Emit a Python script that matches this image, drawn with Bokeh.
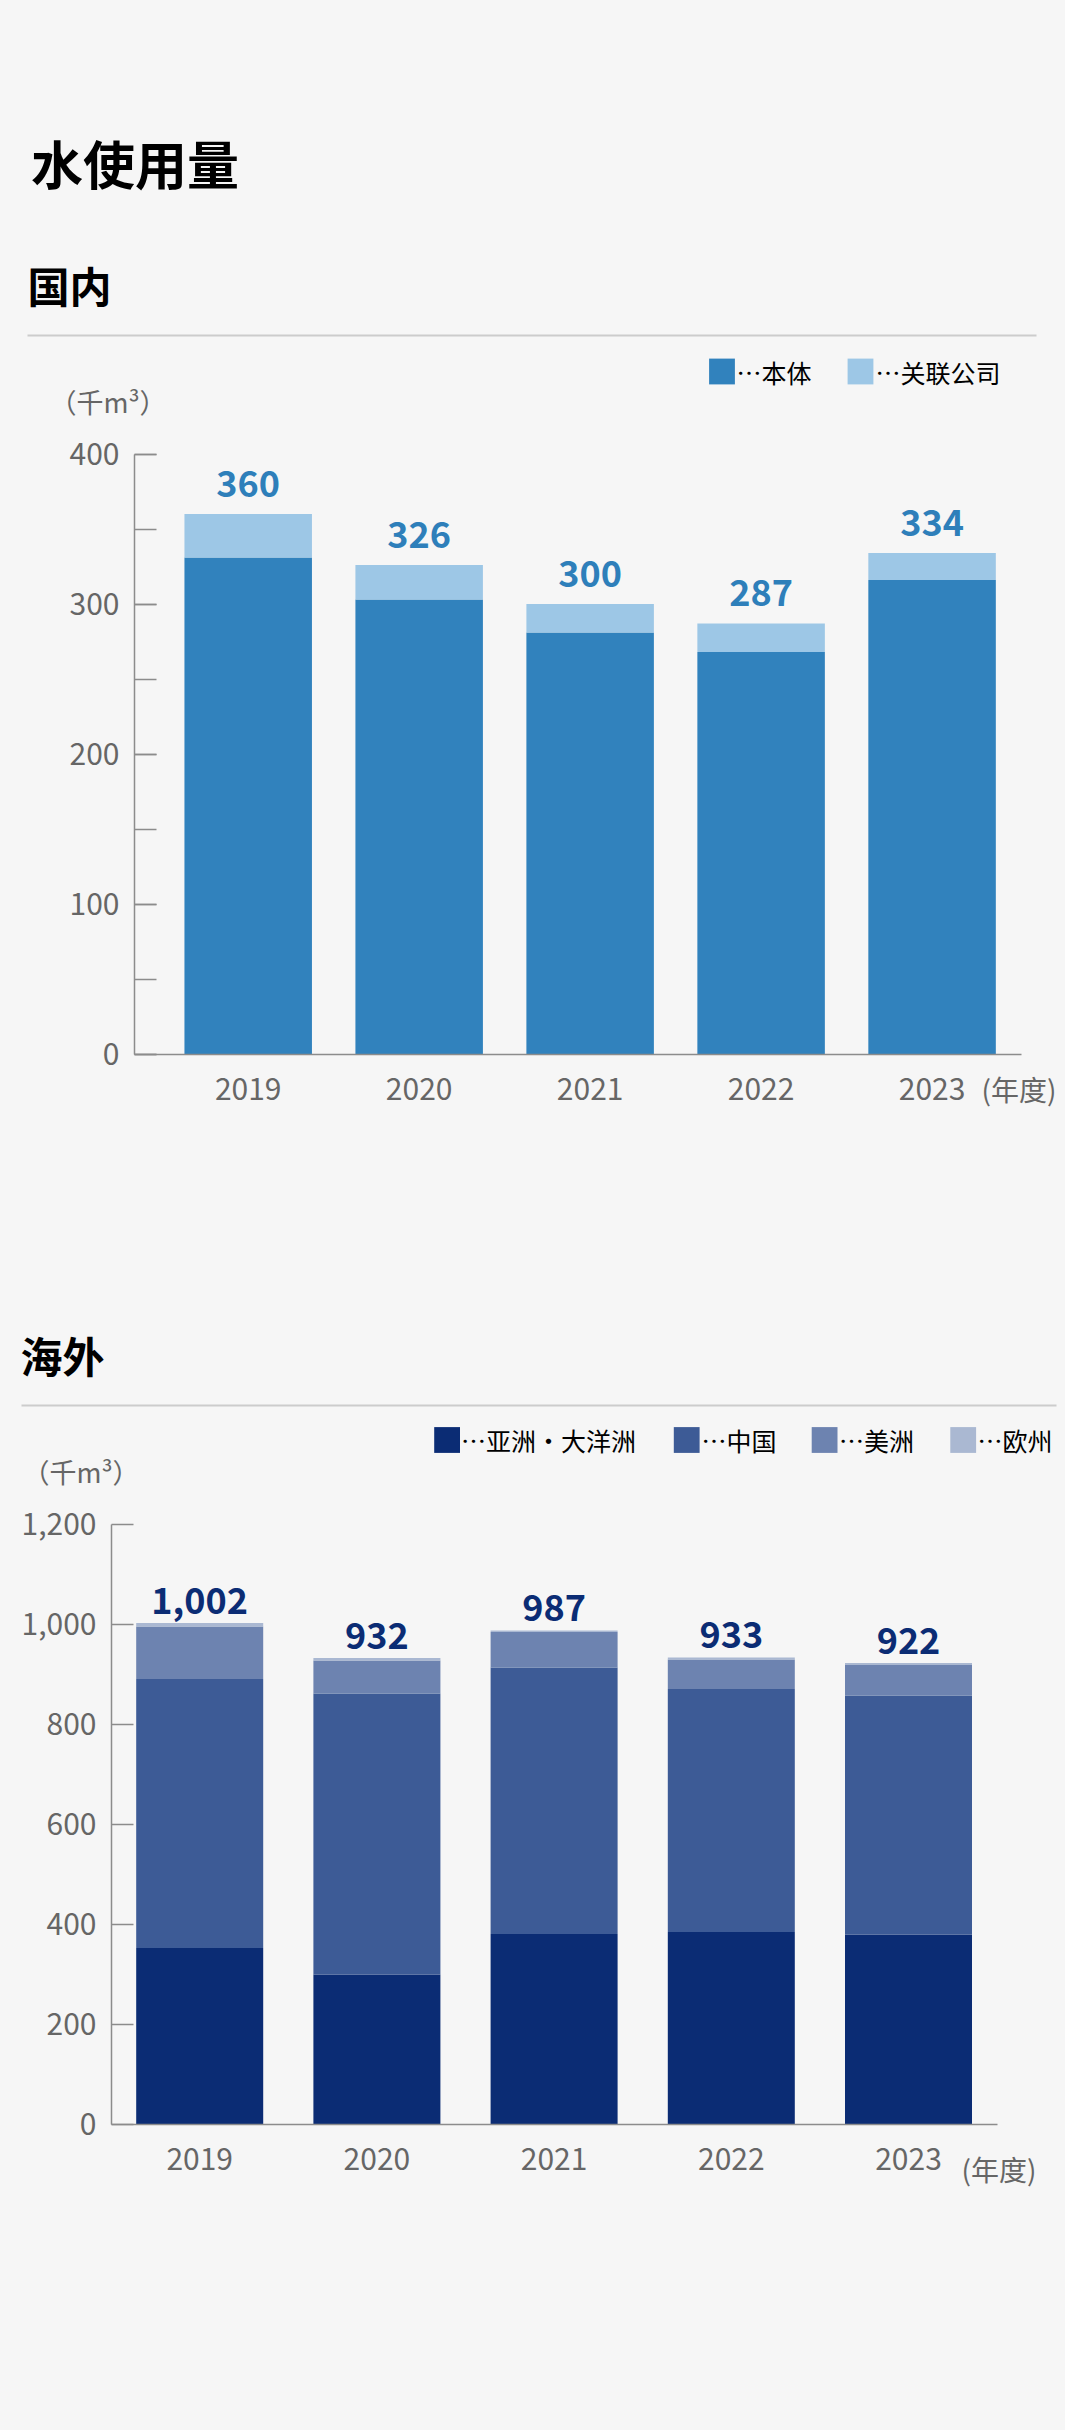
from bokeh.plotting import figure
from bokeh.layouts import column
from bokeh.models import (Range1d, ColumnDataSource, FixedTicker,
                          SingleIntervalTicker, NumeralTickFormatter)
from bokeh.core.properties import value
from bokeh.embed import file_html
from bokeh.resources import INLINE

# ---------------- data ----------------
years = ["2019", "2020", "2021", "2022", "2023"]

dom_series = ["本体", "关联公司"]
dom_main = [331, 303, 281, 268, 316]
dom_affiliate = [29, 23, 19, 19, 18]

ovs_series = ["亚洲・大洋洲", "中国", "美洲", "欧州"]
ovs_asia = [352, 299, 380, 384, 379]
ovs_china = [538, 562, 533, 486, 478]
ovs_americas = [105, 66, 71, 59, 61]
ovs_europe = [7, 5, 3, 4, 4]

unit_label = "（千m³）"
year_label = "(年度)"

# ---------------- style ----------------
FONT = "Noto Sans CJK SC"
BG = "#f6f6f6"
W = 1065
LEFT_PAGE = 0
AXIS_C = "#8c8c8c"
TXT_GREY = "#666666"
dom_colors = ["#3182bd", "#9dc7e6"]
ovs_colors = ["#0b2c74", "#3d5b96", "#6d83b0", "#aab8d2"]
dom_label_color = "#2e7fba"
ovs_label_color = "#0b2c74"


def base_fig(h, xr, yr):
    p = figure(width=W, height=h, x_range=xr, y_range=yr,
               output_backend="svg", toolbar_location=None, min_border=0)
    p.outline_line_color = None
    p.background_fill_color = BG
    p.border_fill_color = BG
    p.grid.visible = False
    return p


def header(h):
    p = figure(width=W, height=h, x_range=Range1d(0, W), y_range=Range1d(h, 0),
               x_axis_type=None, y_axis_type=None, output_backend="svg",
               toolbar_location=None, min_border=0)
    p.outline_line_color = None
    p.background_fill_color = BG
    p.border_fill_color = BG
    return p


def put_text(p, x, y, txt, size, bold=False, color="#000000", align="left"):
    p.text(x=[x], y=[y], text=[txt], text_font=value(FONT),
           text_font_size=f"{size}px", text_font_style="bold" if bold else "normal",
           text_color=color, text_baseline="middle", text_align=align)


def legend(p, names, colors, sq_x, tx_x, y, size=25.8):
    for name, c, sx, tx in zip(names, colors, sq_x, tx_x):
        p.scatter(x=[sx], y=[y], marker="square", size=size, fill_color=c, line_color=None)
        put_text(p, tx, y, "…" + name, 25)


def chart(top, h, X0, DX, Y0, DY, ax_left, ax_right, ymax, interval, minor,
          stack_names, stack_vals, colors, bar_px, lab_color, lab_off, year_pos):
    # page-pixel -> data helpers (layout only)
    fx = lambda px: (px - X0) / DX
    fy = lambda py: (Y0 - py) / DY
    p = base_fig(h, Range1d(fx(LEFT_PAGE), fx(LEFT_PAGE + W)),
                 Range1d(fy(top + h), fy(top)))

    xs = list(range(len(years)))
    data = {"x": xs}
    for n, v in zip(stack_names, stack_vals):
        data[n] = v
    src = ColumnDataSource(data)
    p.vbar_stack(stack_names, x="x", width=bar_px / DX, fill_color=colors,
                 line_color=None, source=src)

    totals = [sum(t) for t in zip(*stack_vals)]
    p.text(x=xs, y=totals, text=[f"{t:,}" for t in totals], y_offset=lab_off,
           text_font=value(FONT), text_font_size="36px", text_font_style="bold",
           text_color=lab_color, text_align="center", text_baseline="middle")

    # y axis
    ya = p.yaxis[0]
    ya.fixed_location = fx(ax_left)
    ya.bounds = (0, ymax)
    ya.ticker = SingleIntervalTicker(interval=interval, num_minor_ticks=minor)
    ya.formatter = NumeralTickFormatter(format="0,0")
    ya.axis_line_color = AXIS_C
    ya.axis_line_width = 1.5
    ya.major_tick_in = 22
    ya.major_tick_out = 0
    ya.minor_tick_in = 22
    ya.minor_tick_out = 0
    ya.major_tick_line_color = AXIS_C
    ya.major_tick_line_width = 1.5
    ya.minor_tick_line_color = AXIS_C if minor else None
    ya.minor_tick_line_width = 1.5
    ya.major_label_text_font = FONT
    ya.major_label_text_font_size = "30px"
    ya.major_label_text_color = TXT_GREY
    ya.major_label_standoff = 15

    # x axis
    xa = p.xaxis[0]
    xa.fixed_location = 0
    xa.bounds = (fx(ax_left), fx(ax_right))
    xa.ticker = FixedTicker(ticks=xs)
    xa.major_label_overrides = {i: y for i, y in enumerate(years)}
    xa.axis_line_color = AXIS_C
    xa.axis_line_width = 1.5
    xa.major_tick_line_color = None
    xa.minor_tick_line_color = None
    xa.major_label_text_font = FONT
    xa.major_label_text_font_size = "30px"
    xa.major_label_text_color = TXT_GREY
    xa.major_label_standoff = 18

    p.text(x=[fx(year_pos[0])], y=[fy(year_pos[1])], text=[year_label],
           text_font=value(FONT), text_font_size="28px", text_color=TXT_GREY,
           text_baseline="middle", text_align="left")
    return p


# ---------------- domestic (header page y 0..430) ----------------
h1 = header(430)
put_text(h1, 30.5, 162, "水使用量", 52, bold=True)
put_text(h1, 27, 284, "国内", 42, bold=True)
h1.segment(x0=[27], y0=[335], x1=[1036], y1=[335], line_color="#cccccc", line_width=2)
legend(h1, dom_series, dom_colors, [721.5, 860], [736, 875], 371)
put_text(h1, 49, 401, unit_label, 27, color=TXT_GREY)

c1 = chart(430, 700, 247.7, 170.97, 1053.5, 1.5, 134, 1021, 400, 100, 2,
           ["main", "aff"], [dom_main, dom_affiliate], dom_colors, 127.5,
           dom_label_color, -31, (981, 1088))

# ---------------- overseas (header page y 1130..1500) ----------------
h2 = header(370)
put_text(h2, 20, 224, "海外", 42, bold=True)
h2.segment(x0=[21], y0=[275], x1=[1056], y1=[275], line_color="#cccccc", line_width=2)
legend(h2, ovs_series, ovs_colors, [446.6, 686.2, 824.1, 962.7],
       [460.5, 701, 838.5, 977], 309.5)
put_text(h2, 22, 341, unit_label, 27, color=TXT_GREY)

c2 = chart(1500, 930, 199.2, 177.2, 2123.5, 0.5, 111, 997, 1200, 200, 0,
           ["asia", "china", "americas", "europe"],
           [ovs_asia, ovs_china, ovs_americas, ovs_europe], ovs_colors, 127,
           ovs_label_color, -23, (961, 2168))

layout = column(h1, c1, h2, c2, spacing=0, styles={"background-color": BG})
open("out.html", "w").write(file_html(layout, INLINE))
